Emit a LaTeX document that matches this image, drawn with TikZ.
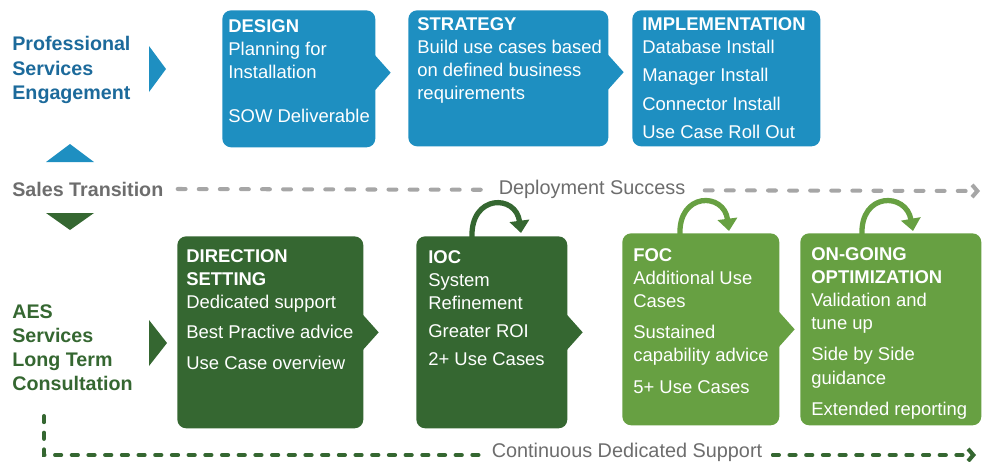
\documentclass[tikz,border=0pt]{standalone}
\usepackage{fontspec}
\setmainfont{Liberation Sans}
\usepackage{tikz}
\usetikzlibrary{arrows.meta}
\usetikzlibrary{positioning}

\definecolor{psblue}{HTML}{1E8FC1}
\definecolor{pslabel}{HTML}{1C6A9B}
\definecolor{aesdark}{HTML}{356731}
\definecolor{aeslight}{HTML}{67A042}
\definecolor{salesgray}{HTML}{6D6D6D}
\definecolor{dashgray}{HTML}{A6A6A6}

\newcommand{\boxfont}{\fontsize{10.5}{13.2}\selectfont}
\newcommand{\labelfont}{\fontsize{11.2}{13.7}\selectfont\bfseries}
\newcommand{\trackfont}{\fontsize{11.3}{13.7}\selectfont}
\newcommand{\notch}[2]{\fill[#2] (#1) ++(-2,-19) -- ++(17,19) -- ++(-17,19) -- cycle;}

\begin{document}
\begin{tikzpicture}[
	x=0.02cm, y=-0.02cm,
	stagebox/.style = {anchor=north west, rounded corners=5pt, inner sep=0pt},
	stagetext/.style = {anchor=north west, inner sep=0pt, align=left, text=white, font=\boxfont},
	rowlabel/.style = {anchor=west, inner sep=0pt, align=left, font=\labelfont},
	loopback/.style = {line width=3pt, -{Triangle[width=11pt,length=7pt]}},
	track/.style = {line width=2.3pt, line cap=round, -{Straight Barb[length=3pt,width=7pt]}}
	]
	\useasboundingbox (0,0) rectangle (988,461);

	% professional services row
	\node[rowlabel, text=pslabel] (psrow) at (12,70) {Professional\\Services\\Engagement};
	\fill[psblue] (149,46) -- (166,69) -- (149,92) -- cycle;

	\node[stagebox, fill=psblue, minimum width=3.06cm, minimum height=2.74cm] (design)   at (222,10) {};
	\node[stagebox, fill=psblue, minimum width=4.00cm, minimum height=2.72cm] (strategy) at (408,10) {};
	\node[stagebox, fill=psblue, minimum width=3.76cm, minimum height=2.72cm] (implement) at (632,10) {};
	\notch{[yshift=3.5pt]design.east}{psblue}
	\notch{[yshift=3.5pt]strategy.east}{psblue}

	\node[stagetext] (designtxt) at ([shift={(6,9)}]design.north west)
		{\textbf{DESIGN}\\Planning for\\Installation\\[12pt]SOW Deliverable};
	\node[stagetext] (strategytxt) at ([shift={(9,7)}]strategy.north west)
		{\textbf{STRATEGY}\\Build use cases based\\on defined business\\requirements};
	\node[stagetext] (implementtxt) at ([shift={(10,7)}]implement.north west)
		{\textbf{IMPLEMENTATION}\\Database Install\\[3pt]Manager Install\\[3pt]Connector Install\\[3pt]Use Case Roll Out};

	% sales transition
	\fill[psblue] (46,162) -- (70,144) -- (94,162) -- cycle;
	\fill[aesdark] (46,213) -- (70,230) -- (94,213) -- cycle;
	\node[rowlabel, text=salesgray] (sales) at (12,189) {Sales Transition};
	\coordinate (deployend) at (980,191);
	\draw[track, dashgray, dash pattern=on 4.5pt off 7.5pt] ([xshift=8pt]sales.east) -- (deployend);
	\node[fill=white, text=salesgray, font=\trackfont, inner xsep=6pt] (deploy) at (592,189) {Deployment Success};

	% aes services row
	\node[rowlabel, text=aesdark] (aesrow) at (12,348) {AES\\Services\\Long Term\\Consultation};
	\fill[aesdark] (149,320) -- (167,343) -- (149,366) -- cycle;

	\node[stagebox, fill=aesdark, minimum width=3.72cm, minimum height=3.84cm] (direction) at (177,236) {};
	\node[stagebox, fill=aesdark, minimum width=3.02cm, minimum height=3.84cm] (ioc)       at (416,236) {};
	\node[stagebox, fill=aeslight, minimum width=3.14cm, minimum height=3.84cm] (foc)      at (622,233) {};
	\node[stagebox, fill=aeslight, minimum width=3.62cm, minimum height=3.84cm] (ongoing)  at (800,233) {};
	\notch{direction.east}{aesdark}
	\notch{ioc.east}{aesdark}
	\notch{foc.east}{aeslight}

	\node[stagetext] (directiontxt) at ([shift={(9,13)}]direction.north west)
		{\textbf{DIRECTION}\\\textbf{SETTING}\\Dedicated support\\[4pt]Best Practive advice\\[4pt]Use Case overview};
	\node[stagetext] (ioctxt) at ([shift={(12,14)}]ioc.north west)
		{\textbf{IOC}\\System\\Refinement\\[2.8pt]Greater ROI\\[2.8pt]2+ Use Cases};
	\node[stagetext] (foctxt) at ([shift={(11,15)}]foc.north west)
		{\textbf{FOC}\\Additional Use\\Cases\\[4.5pt]Sustained\\capability advice\\[4.5pt]5+ Use Cases};
	\node[stagetext] (ongoingtxt) at ([shift={(11,14)}]ongoing.north west)
		{\textbf{ON-GOING}\\\textbf{OPTIMIZATION}\\Validation and\\tune up\\[4.5pt]Side by Side\\guidance\\[4.5pt]Extended reporting};

	\draw[loopback, aesdark]  (472,238) .. controls (470,194) and (516,194) .. (521,233);
	\draw[loopback, aeslight] (680,235) .. controls (678,192) and (724,192) .. (729,231);
	\draw[loopback, aeslight] (862,235) .. controls (860,192) and (906,192) .. (913,231);

	% continuous support
	\coordinate (aesfoot) at (44,416);
	\coordinate (supportend) at (976,455);
	\draw[track, aesdark, dash pattern=on 3.5pt off 6pt] (aesfoot) |- (supportend);
	\node[fill=white, text=salesgray, font=\trackfont, inner xsep=5pt] (support) at (627,452) {Continuous Dedicated Support};

\end{tikzpicture}
\end{document}
